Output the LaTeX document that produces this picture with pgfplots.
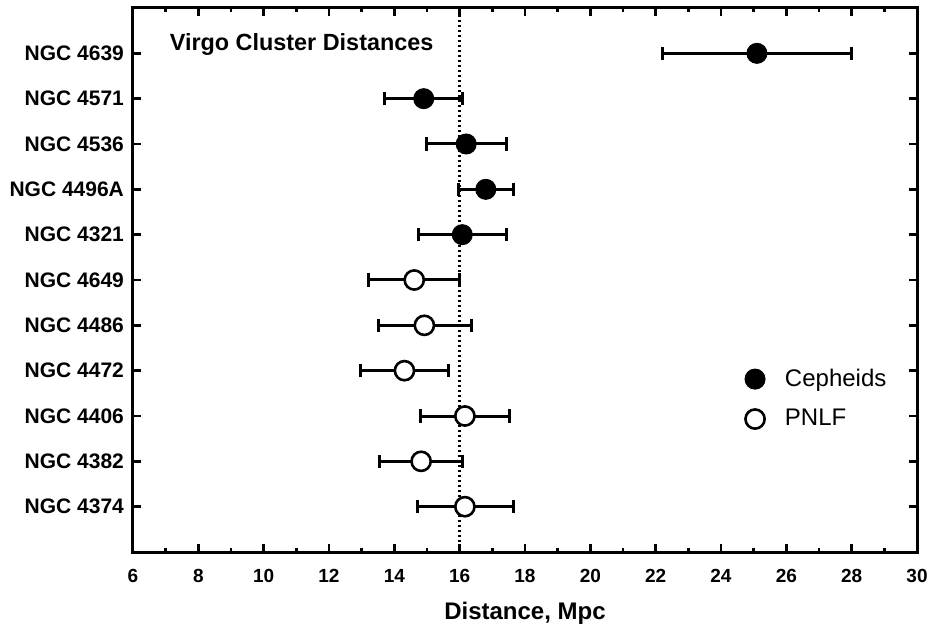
\documentclass[border=0pt]{standalone}
\usepackage{pgfplots}
\pgfplotsset{compat=1.18}
\usepackage{fontspec}
\setmainfont{Liberation Sans}

\begin{document}
\begin{tikzpicture}
  \begin{axis}[
    name=main,
    scale only axis,
    width=392pt,
    height=272pt,
    xmin=6, xmax=30,
    ymin=-1, ymax=11,
    xtick={6,8,...,30},
    minor x tick num=1,
    ytick={0,...,10},
    yticklabels={NGC 4374,NGC 4382,NGC 4406,NGC 4472,NGC 4486,NGC 4649,NGC 4321,NGC 4496A,NGC 4536,NGC 4571,NGC 4639},
    tick align=inside,
    major tick length=4pt,
    minor tick length=2pt,
    axis line style={line width=1.5pt},
    every tick/.style={black, line width=1.2pt},
    /pgf/number format/assume math mode=true,
    x tick label style={font=\bfseries\fontsize{9.5}{11}\selectfont, yshift=-5pt},
    y tick label style={font=\bfseries\fontsize{10.5}{12}\selectfont, xshift=-1pt},
    xlabel={Distance, Mpc},
    xlabel style={font=\bfseries\fontsize{12}{14}\selectfont, yshift=-3pt},
    legend style={draw=none, fill=none, at={(0.7635,0.352)}, anchor=north west,
      font=\fontsize{12}{14}\selectfont, row sep=6pt,
      legend cell align=left},
    legend image code/.code={\path[draw=none] (0,0) -- (21.5pt,0); \draw[#1] plot coordinates {(0.3cm,0cm)};},
  ]
  % dotted reference line at 16 Mpc
  \addplot[black, line width=1.3pt, dash pattern=on 1.2pt off 1.3pt, forget plot]
    coordinates {(16,-1) (16,11)};

  % Cepheids
  \addplot[black, only marks, mark=*, mark size=5pt, line width=1.5pt,
    mark options={fill=black, line width=0.5pt},
    error bars/.cd, x dir=both, x explicit,
    error mark=|, error mark options={mark size=3.3pt, line width=1.5pt, rotate=0},
    error bar style={line width=1.5pt}]
    table[x=x, y=y, x error minus=em, x error plus=ep] {
      x     y   em    ep
      25.10 10  2.90  2.90
      14.90 9   1.20  1.20
      16.20 8   1.22  1.22
      16.80 7   0.85  0.86
      16.08 6   1.33  1.34
    };

  % PNLF
  \addplot[black, only marks, mark=*, mark size=4.8pt, line width=1.5pt,
    mark options={fill=white, line width=1.3pt},
    error bars/.cd, x dir=both, x explicit,
    error mark=|, error mark options={mark size=3.3pt, line width=1.5pt},
    error bar style={line width=1.5pt}]
    table[x=x, y=y, x error minus=em, x error plus=ep] {
      x     y   em    ep
      14.61 5   1.39  1.40
      14.92 4   1.41  1.43
      14.31 3   1.36  1.36
      16.16 2   1.35  1.38
      14.82 1   1.26  1.27
      16.16 0   1.45  1.48
    };

  \addlegendimage{only marks, mark=*, mark size=5pt, mark options={fill=black}}
  \addlegendentry{Cepheids}
  \addlegendimage{only marks, mark=*, mark size=4.5pt, mark options={fill=white, line width=1.3pt}}
  \addlegendentry{PNLF}

  \node[anchor=base west, font=\bfseries\fontsize{11.7}{14}\selectfont]
    at (rel axis cs:0.038,0.922) {Virgo Cluster Distances};
  \end{axis}
  \path (main.south west) ++(-66.5pt,-37pt) coordinate (bl);
  \path (main.north east) ++(10.5pt,4pt) coordinate (tr);
  \useasboundingbox (bl) rectangle (tr);
\end{tikzpicture}
\end{document}
